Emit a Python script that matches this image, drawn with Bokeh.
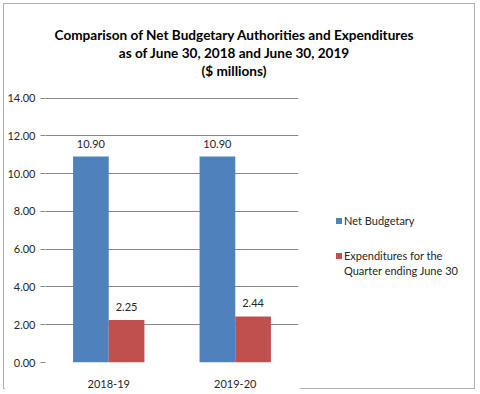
from bokeh.plotting import figure
from bokeh.models import (ColumnDataSource, FactorRange, Range1d, FixedTicker,
                          NumeralTickFormatter, Div, Column, Row)
from bokeh.transform import dodge
from bokeh.embed import file_html
from bokeh.resources import INLINE
from bokeh.core.properties import value

categories = ["2018-19", "2019-20"]
net_budgetary = [10.90, 10.90]
expenditures = [2.25, 2.44]
y_ticks = [0, 2, 4, 6, 8, 10, 12, 14]
title_lines = ["Comparison of Net Budgetary Authorities and Expenditures",
               "as of June 30, 2018 and June 30, 2019",
               "($ millions)"]
series_names = ["Net Budgetary", "Expenditures for the\nQuarter ending June 30"]

FONT = "Lato"
FS = "11px"
BLUE = "#4F81BD"
RED = "#C0504D"
TXT = "#262626"

src = ColumnDataSource(dict(
    cat=categories,
    net=net_budgetary,
    exp=expenditures,
    net_lbl=["%.2f" % v for v in net_budgetary],
    exp_lbl=["%.2f" % v for v in expenditures],
))

# ---- chart area ----
p = figure(width=296, height=303, x_range=FactorRange(*categories, range_padding=0),
           y_range=Range1d(0, 14.03), output_backend="svg", toolbar_location=None,
           min_border_left=39, min_border_right=2, min_border_top=10, min_border_bottom=26,
           margin=0)
p.outline_line_color = None
p.background_fill_color = "white"
p.border_fill_color = "white"

bw = 0.282
p.vbar(x=dodge("cat", -bw / 2, range=p.x_range), top="net", width=bw, source=src,
       fill_color=BLUE, line_color=None)
p.vbar(x=dodge("cat", bw / 2, range=p.x_range), top="exp", width=bw, source=src,
       fill_color=RED, line_color=None)

for col, off in (("net_lbl", -bw / 2), ("exp_lbl", bw / 2)):
    p.text(x=dodge("cat", off, range=p.x_range), y=col.replace("_lbl", ""), text=col,
           source=src, text_align="center", text_baseline="middle", y_offset=-13,
           text_font=value(FONT), text_font_size=FS, text_color=TXT)

p.yaxis.ticker = FixedTicker(ticks=y_ticks)
p.yaxis.formatter = NumeralTickFormatter(format="0.00")
p.yaxis.axis_line_color = None
p.yaxis.major_tick_line_color = "#868686"
p.yaxis.major_tick_out = 5
p.yaxis.major_tick_in = 0
p.yaxis.minor_tick_line_color = None
p.yaxis.major_label_text_font = FONT
p.yaxis.major_label_text_font_size = FS
p.yaxis.major_label_text_color = TXT
p.yaxis.major_label_standoff = 5

p.xaxis.axis_line_color = None
p.xaxis.major_tick_line_color = None
p.xaxis.major_label_text_font = FONT
p.xaxis.major_label_text_font_size = FS
p.xaxis.major_label_text_color = TXT
p.xaxis.major_label_standoff = 11

p.xgrid.grid_line_color = None
p.ygrid.grid_line_color = "#868686"
p.ygrid.grid_line_width = 1

# ---- title ----
title_html = "<br>".join(title_lines)
title = Div(text=title_html, width=472, height=83, margin=0,
            styles={"font-family": FONT, "font-weight": "bold", "font-size": "13.6px",
                    "line-height": "18px", "color": "#000000", "text-align": "center",
                    "padding-top": "22px", "padding-right": "10px", "box-sizing": "border-box",
                    "width": "472px"})

# ---- legend ----
def leg_entry(name, color, top):
    parts = name.split("\n")
    sq = ('<div style="position:absolute;left:36px;top:%dpx;width:6px;height:6px;'
          'background:%s"></div>' % (top + 5, color))
    txt = ('<div style="position:absolute;left:44px;top:%dpx;line-height:15px;'
           'white-space:nowrap">%s</div>' % (top, "<br>".join(parts)))
    return sq + txt

legend_html = ('<div style="position:relative;width:172px;height:303px;">'
               + leg_entry(series_names[0], BLUE, 126)
               + leg_entry(series_names[1], RED, 161)
               + '</div>')
legend = Div(text=legend_html, width=172, height=303, margin=0,
             styles={"font-family": FONT, "font-size": FS, "color": TXT})

layout = Column(title, Row(p, legend, spacing=0, margin=0), spacing=0, margin=0,
                width=472, height=386,
                styles={"border": "1px solid #b0b0b0", "margin": "3px",
                        "background": "white"})

open("out.html", "w").write(file_html(layout, INLINE))
